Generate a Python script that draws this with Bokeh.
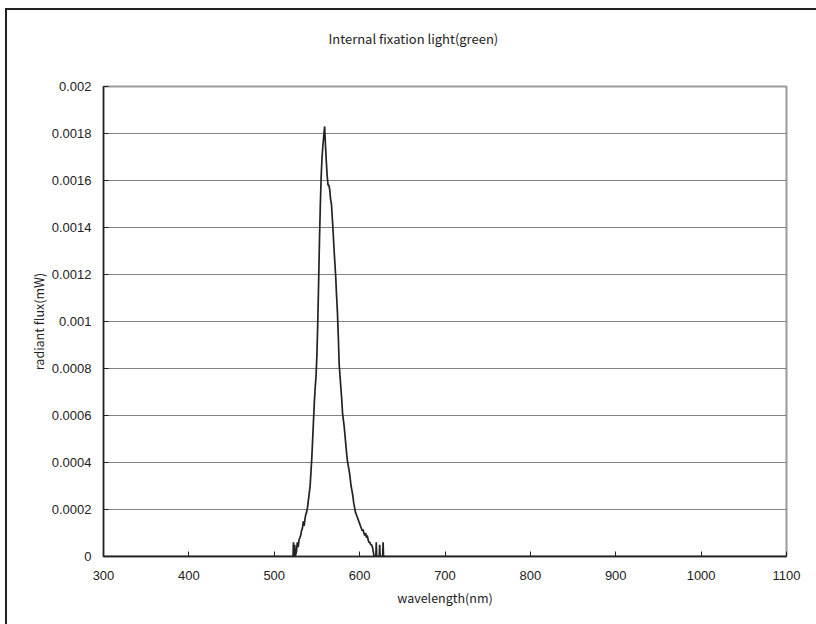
from bokeh.plotting import figure
from bokeh.models import FixedTicker, Range1d, Title
from bokeh.embed import file_html
from bokeh.resources import INLINE

# ---- data ----
wavelength = [300, 520, 522, 522.5, 523, 524, 524.5, 526, 527, 528, 529, 530, 531, 532, 533, 534,
              535, 536, 537, 538, 539, 540, 541, 542, 543, 544, 545, 546, 547, 548, 549, 550,
              551, 552, 553, 554, 555, 556, 557, 558, 559, 560, 561, 562, 563, 564, 565, 566,
              567, 568, 569, 570, 571, 572, 573, 574, 575, 576, 577, 578, 579, 580, 581, 582,
              583, 584, 585, 586, 587, 588, 589, 590, 591, 592, 593, 594, 595, 596, 597, 598,
              599, 600, 601, 602, 603, 604, 605, 606, 607, 608, 609, 610, 611, 612, 613, 614,
              615, 616, 617, 619, 619.5, 620, 620.5, 623, 623.5, 624, 624.5, 627, 627.5, 628,
              630, 1100]
radiant_flux = [0, 0, 0, 0.00006, 0, 0.00005, 0, 0.00002, 0.00006, 0.00004, 0.00007, 0.00008,
                0.00009, 0.00011, 0.00012, 0.00015, 0.00013, 0.00016, 0.00018, 0.00019, 0.00021,
                0.00024, 0.00027, 0.0003, 0.00036, 0.00042, 0.0005, 0.00058, 0.00066, 0.00072,
                0.00077, 0.00086, 0.001, 0.00117, 0.00135, 0.0015, 0.00162, 0.0017, 0.00175,
                0.00179, 0.00183, 0.00175, 0.00168, 0.00162, 0.00158, 0.00158, 0.00156, 0.00152,
                0.0015, 0.00144, 0.00138, 0.00131, 0.00125, 0.00119, 0.00111, 0.00104, 0.00094,
                0.00082, 0.00077, 0.00072, 0.00067, 0.00061, 0.00058, 0.00055, 0.00051, 0.00047,
                0.00043, 0.0004, 0.00038, 0.00036, 0.00033, 0.0003, 0.00028, 0.00026, 0.00023,
                0.00021, 0.00019, 0.00018, 0.00017, 0.00016, 0.00015, 0.00014, 0.00013, 0.00012,
                0.00011, 0.000115, 0.0001, 0.00009, 0.0001, 0.00008, 0.00009, 0.00007, 0.00006,
                0.00006, 0.00005, 0.00005, 0.00004, 0.00002, 0, 0, 0.00006, 0, 0, 0, 0.00005, 0,
                0, 0, 0.00006, 0, 0, 0]

x_ticks = [300, 400, 500, 600, 700, 800, 900, 1000, 1100]
y_ticks = [0, 0.0002, 0.0004, 0.0006, 0.0008, 0.001, 0.0012, 0.0014, 0.0016, 0.0018, 0.002]
y_tick_labels = ["0", "0.0002", "0.0004", "0.0006", "0.0008", "0.001", "0.0012",
                 "0.0014", "0.0016", "0.0018", "0.002"]

title_text = "Internal fixation light(green)"
x_label = "wavelength(nm)"
y_label = "radiant flux(mW)"

TICK_FONT = "Liberation Sans"
TEXT_FONT = "Noto Sans CJK JP"

p = figure(width=830, height=630, output_backend="svg", toolbar_location=None,
           x_range=Range1d(300, 1100), y_range=Range1d(0, 0.002),
           min_border_left=96, min_border_right=51, min_border_top=76, min_border_bottom=84)

# spacer between plot frame and title, then the title itself (added later = farther out)
p.add_layout(Title(text=" ", text_font_size="1px", standoff=34), "above")
p.add_layout(Title(text=title_text, text_font=TEXT_FONT, text_font_size="13px",
                   text_font_style="normal", text_color="#222222", align="left",
                   offset=225, standoff=4), "above")

p.line(wavelength, radiant_flux, line_color="#222222", line_width=1.7)

p.outline_line_color = "#9a9a9a"
p.outline_line_width = 2
p.background_fill_color = "white"
p.border_fill_color = "white"

p.xgrid.visible = False
p.ygrid.grid_line_color = "#808080"
p.ygrid.grid_line_width = 1

p.xaxis.ticker = FixedTicker(ticks=x_ticks)
p.yaxis.ticker = FixedTicker(ticks=y_ticks)
p.yaxis.major_label_overrides = {v: s for v, s in zip(y_ticks, y_tick_labels)}

for ax in (p.xaxis[0], p.yaxis[0]):
    ax.axis_line_color = "#222222"
    ax.axis_line_width = 1.5
    ax.major_tick_line_color = "#222222"
    ax.major_tick_in = 5
    ax.major_tick_out = 0
    ax.minor_tick_line_color = None
    ax.major_label_text_font = TICK_FONT
    ax.major_label_text_font_size = "13px"
    ax.major_label_text_color = "#222222"
    ax.axis_label_text_font = TEXT_FONT
    ax.axis_label_text_font_size = "12.5px"
    ax.axis_label_text_font_style = "normal"
    ax.axis_label_text_color = "#222222"

p.xaxis.axis_label = x_label
p.yaxis.axis_label = y_label
p.xaxis.major_label_standoff = 14
p.yaxis.major_label_standoff = 12
p.xaxis.axis_label_standoff = 5
p.yaxis.axis_label_standoff = 1

page_css = ("<style>html { overflow: hidden !important; } "
            "body { overflow: hidden !important; margin: 10px 0 0 7px !important; } "
            "body::before { content: ''; position: fixed; left: 5px; top: 8px; "
            "width: 3000px; height: 3000px; border-top: 2px solid #222; "
            "border-left: 2px solid #222; pointer-events: none; z-index: 10; }</style>")
html = file_html(p, INLINE)
html = html.replace("<head>", "<head>" + page_css, 1)
open("out.html", "w").write(html)
